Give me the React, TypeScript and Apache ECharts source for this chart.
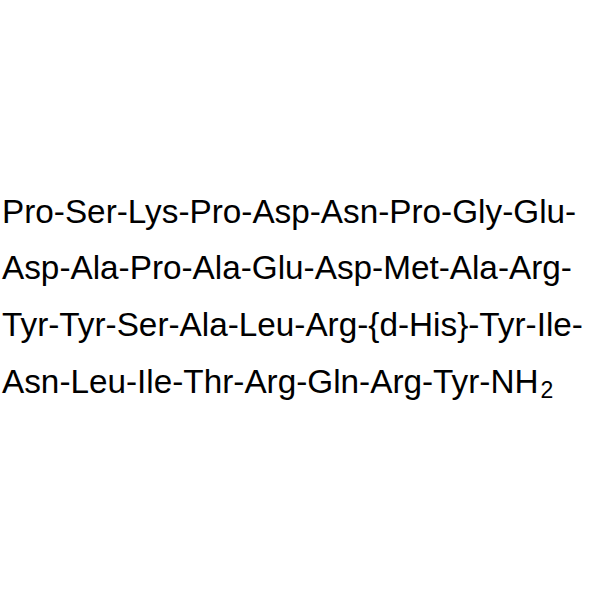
import React, { useEffect, useRef } from 'react';
import * as echarts from 'echarts';

// peptide sequence, one entry per printed line
const sequenceLines = [
    'Pro-Ser-Lys-Pro-Asp-Asn-Pro-Gly-Glu-',
    'Asp-Ala-Pro-Ala-Glu-Asp-Met-Ala-Arg-',
    'Tyr-Tyr-Ser-Ala-Leu-Arg-{d-His}-Tyr-Ile-',
    'Asn-Leu-Ile-Thr-Arg-Gln-Arg-Tyr-NH',
];
const subscript = '2';

const FONT = '"Liberation Sans", Arial, sans-serif';
const MAIN_SIZE = 33.3;
const SUB_SIZE = 23;

const measure = (text: string, size: number) => {
    const ctx = document.createElement('canvas').getContext('2d');
    if (!ctx) return text.length * size * 0.5;
    ctx.font = `${size}px ${FONT}`;
    return ctx.measureText(text).width;
};

const App: React.FC = () => {
    const chartRef = useRef<HTMLDivElement>(null);

    useEffect(() => {
        document.body.style.margin = '0';
        if (!chartRef.current) return;
        const chart = echarts.init(chartRef.current, null, { renderer: 'svg' });

        const left = 2;
        const firstMiddle = 211;
        const step = 56.7;

        const textStyle = (text: string, size: number) => ({
            text,
            fontFamily: FONT,
            fontSize: size,
            fill: '#000',
            verticalAlign: 'middle',
            align: 'left',
        });

        const texts: any[] = sequenceLines.map((line, i) => ({
            type: 'text',
            x: left,
            y: firstMiddle + i * step,
            style: textStyle(line, MAIN_SIZE),
        }));

        // subscript "2" right after the last line
        const last = sequenceLines[sequenceLines.length - 1];
        texts.push({
            type: 'text',
            x: left + measure(last, MAIN_SIZE) + 2,
            y: firstMiddle + (sequenceLines.length - 1) * step + 9,
            style: textStyle(subscript, SUB_SIZE),
        });

        chart.setOption({
            animation: false,
            backgroundColor: '#fff',
            graphic: { elements: texts },
        });

        return () => {
            chart.dispose();
        };
    }, []);

    return <div ref={chartRef} style={{ width: '600px', height: '600px' }} />;
};

export default App;
